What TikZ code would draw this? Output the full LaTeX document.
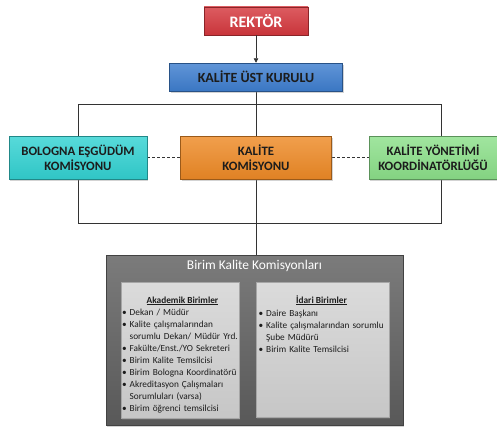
\documentclass[tikz,border=0pt]{standalone}
\usepackage{fontspec}
\setmainfont{Carlito}
\usepackage{xcolor}
\usetikzlibrary{arrows.meta, shadows, backgrounds}

\definecolor{rektorred}{HTML}{D5383E}
\definecolor{kurulblue}{HTML}{3E7ECF}
\definecolor{bolognacyan}{HTML}{33D2D2}
\definecolor{kaliteorange}{HTML}{EE8A26}
\definecolor{yonetimgreen}{HTML}{8CE08A}
\definecolor{outergray}{HTML}{5E5E5E}
\definecolor{innergray}{HTML}{D3D3D3}
\definecolor{textdark}{HTML}{1C1C1C}
\definecolor{linegray}{HTML}{333333}

% bullet item for the lists
\newcommand{\itm}[1]{{\hangindent=7.5pt\hangafter=1\noindent\makebox[7.5pt][l]{\textbullet}#1\par}}

\begin{document}
\begin{tikzpicture}[x=1pt, y=-1pt,
	box/.style={draw=#1!65!black, line width=0.5pt, top color=#1!82!white, bottom color=#1!94!black, inner sep=0pt, text=textdark,
		drop shadow={shadow xshift=1.2pt, shadow yshift=-1.5pt, opacity=0.35}},
	midbox/.style={box=#1, minimum height=43pt, align=center, font=\bfseries\fontsize{12.8}{15}\selectfont},
	innerbox/.style={box=innergray, draw=gray!70},
	listtext/.style={inner sep=0pt, align=left, text=textdark, font=\fontsize{9.3}{12}\selectfont},
	link/.style={draw=linegray, line width=0.7pt}]
	\useasboundingbox (0,0) rectangle (497,428);
	
	% Top of the chart
	\node[box=rektorred, text=white, font=\bfseries\fontsize{16}{18}\selectfont, minimum width=104pt, minimum height=28pt] (rektor) at (256,21) {REKTÖR};
	\node[box=kurulblue, font=\bfseries\fontsize{14}{16}\selectfont, minimum width=173pt, minimum height=28pt] (ustkurul) at (256,77) {KALİTE ÜST KURULU};
	
	% Middle row
	\node[midbox=bolognacyan, minimum width=138pt] (bologna) at (78,157.5) {BOLOGNA EŞGÜDÜM\\KOMİSYONU};
	\node[midbox=kaliteorange, minimum width=151pt] (komisyon) at (256,157.5) {KALİTE\\KOMİSYONU};
	\node[midbox=yonetimgreen, minimum width=128pt] (yonetim) at (433,157.5) {KALİTE YÖNETİMİ\\KOORDİNATÖRLÜĞÜ};
	
	\coordinate (topL) at (78,104);
	\coordinate (topR) at (441,104);
	\coordinate (botL) at (78,223);
	\coordinate (botR) at (441,223);
	
	% Unit committees
	\node[box=outergray, draw=outergray!70!black, minimum width=297pt, minimum height=170pt] (birim) at (254.5,340) {};
	\node[text=white, font=\fontsize{13.4}{15}\selectfont] (birimbaslik) at (254.5,266) {Birim Kalite Komisyonları};
	\node[innerbox, minimum width=118pt, minimum height=136pt] (akademik) at (180,350) {};
	\node[innerbox, minimum width=133pt, minimum height=135pt] (idari) at (322.5,349.5) {};
	
	\node[listtext, anchor=base, font=\bfseries\fontsize{9.3}{12}\selectfont] (akademikbaslik) at (182.5,303) {\underline{Akademik Birimler}};
	\node[listtext, anchor=base, font=\bfseries\fontsize{9.3}{12}\selectfont] (idaribaslik) at (321.5,303) {\underline{İdari Birimler}};
	
	\node[listtext, text width=118pt, anchor=base west] (akademikliste) at (122,315.5) {%
		\itm{Dekan / Müdür}
		\itm{Kalite çalışmalarından\newline sorumlu Dekan/ Müdür Yrd.}
		\itm{Fakülte/Enst./YO Sekreteri}
		\itm{Birim Kalite Temsilcisi}
		\itm{Birim Bologna Koordinatörü}
		\itm{Akreditasyon Çalışmaları\newline Sorumluları (varsa)}
		\itm{Birim öğrenci temsilcisi}};
	\node[listtext, text width=132pt, anchor=base west] (idariliste) at (258.5,316) {%
		\itm{Daire Başkanı}
		\itm{Kalite çalışmalarından sorumlu\newline Şube Müdürü}
		\itm{Birim Kalite Temsilcisi}};
	
	% Connectors
	\draw[link, -{Triangle[length=4.5pt, width=4.5pt]}] (rektor) -- (ustkurul);
	\begin{scope}[on background layer]
		\draw[link] (ustkurul.south) -- (komisyon.north);
		\draw[link] (topL) -- (topR);
		\draw[link] (topL) -- (botL) -- (botR) -- (topR);
		\draw[link] (komisyon.south) -- (komisyon.south |- birim.north);
		\draw[link, dash pattern=on 3pt off 2pt] (bologna.east) -- (komisyon.west);
		\draw[link, dash pattern=on 3pt off 2pt] (komisyon.east) -- (yonetim.west);
	\end{scope}
\end{tikzpicture}
\end{document}
